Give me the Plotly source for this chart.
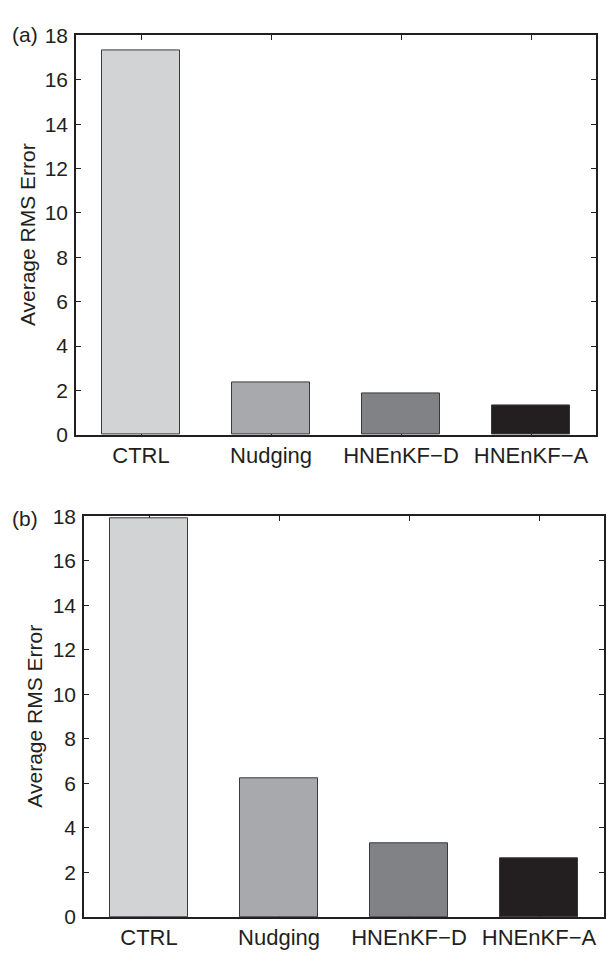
import plotly.graph_objects as go

categories = ["CTRL", "Nudging", "HNEnKF\u2212D", "HNEnKF\u2212A"]
values_a = [17.33, 2.35, 1.85, 1.34]
values_b = [17.89, 6.23, 3.29, 2.63]
bar_colors = ["#d1d3d4", "#a7a9ac", "#808285", "#231f20"]
y_ticks = [0, 2, 4, 6, 8, 10, 12, 14, 16, 18]
panel_labels = ["(a)", "(b)"]
y_title = "Average RMS Error"

W, H = 615, 957
FONT = "Liberation Sans, Arial, Helvetica, sans-serif"
AX = "#231f20"

fig = go.Figure()
fig.add_trace(go.Bar(x=categories, y=values_a, xaxis="x", yaxis="y",
                     width=0.6, marker=dict(color=bar_colors, line=dict(color="#3a3a3a", width=1)),
                     showlegend=False))
fig.add_trace(go.Bar(x=categories, y=values_b, xaxis="x2", yaxis="y2",
                     width=0.6, marker=dict(color=bar_colors, line=dict(color="#3a3a3a", width=1)),
                     showlegend=False))

def xa(domain, anchor):
    return dict(domain=domain, anchor=anchor, type="category", range=[-0.5, 3.5],
                showline=True, linecolor=AX, linewidth=1.5, mirror="ticks",
                ticks="inside", ticklen=5, tickwidth=1, tickcolor=AX,
                layer="below traces", showgrid=False, zeroline=False,
                ticklabelstandoff=0,
                tickfont=dict(family=FONT, size=22, color="#231f20"), fixedrange=True)

def ya(domain, anchor):
    return dict(domain=domain, anchor=anchor, range=[0, 18], tickvals=y_ticks,
                showline=True, linecolor=AX, linewidth=1.5, mirror="ticks",
                ticks="inside", ticklen=5, tickwidth=1, tickcolor=AX,
                showgrid=False, zeroline=False, ticklabelstandoff=2,
                tickfont=dict(family=FONT, size=21, color="#231f20"), fixedrange=True)

# panel (a): x 76..596, y 24..433 ; panel (b): x 84..604, y 516.7..927.3
fig.update_layout(
    width=W, height=H, margin=dict(l=0, r=0, t=0, b=0),
    paper_bgcolor="white", plot_bgcolor="white", bargap=0,
    xaxis=xa([76 / W, 596 / W], "y"),
    yaxis=ya([1 - 433.3 / H, 1 - 24 / H], "x"),
    xaxis2=xa([84 / W, 604 / W], "y2"),
    yaxis2=ya([1 - 927.3 / H, 1 - 516.7 / H], "x2"),
)

ann = []
for lbl, xc, yc in [(panel_labels[0], 25, 23), (panel_labels[1], 25, 519)]:
    ann.append(dict(text=lbl, x=xc / W, y=1 - yc / H, xref="paper", yref="paper",
                    showarrow=False, xanchor="center", yanchor="middle",
                    font=dict(family=FONT, size=21, color="#231f20")))
for xc, yc in [(27, 228.6), (35, 722)]:
    ann.append(dict(text=y_title, x=xc / W, y=1 - yc / H, xref="paper", yref="paper",
                    showarrow=False, textangle=-90, xanchor="center", yanchor="middle",
                    font=dict(family=FONT, size=21, color="#231f20")))
fig.update_layout(annotations=ann)

fig.write_html("out.html")
